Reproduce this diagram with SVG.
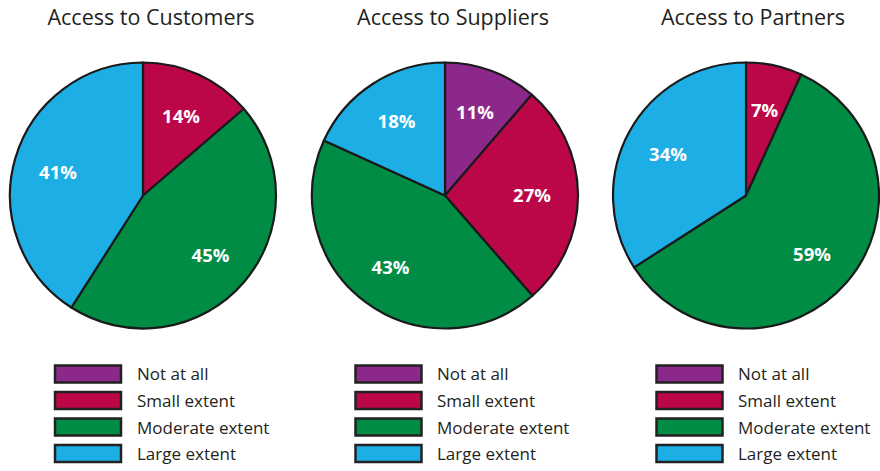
<svg xmlns="http://www.w3.org/2000/svg" width="880" height="471" viewBox="0 0 880 471">
<style>
  .title { font-family: "Open Sans", "Noto Sans", sans-serif; font-size: 21.5px; fill: #231f20; text-anchor: middle; }
  .pct { font-family: "Open Sans", "Noto Sans", sans-serif; font-size: 18.5px; font-weight: bold; fill: #ffffff; text-anchor: middle; }
  .leg { font-family: "Open Sans", "Noto Sans", sans-serif; font-size: 17px; fill: #231f20; }
  .slice { stroke: #1a1a1a; stroke-width: 2.2; stroke-linejoin: round; }
  .sw { stroke: #222222; stroke-width: 2.5; }
  .purple { fill: #8b288a; }
  .red { fill: #bb0748; }
  .green { fill: #008c45; }
  .blue { fill: #1daee5; }
</style>
<rect width="880" height="471" fill="#ffffff"/>

<g id="pie-customers">
  <text class="title" x="151" y="25">Access to Customers</text>
  <path class="slice red" d="M143,195.5 L143,62.5 A133,133 0 0 1 243.83,108.77 Z"/>
  <path class="slice green" d="M143,195.5 L243.83,108.77 A133,133 0 0 1 71.34,307.55 Z"/>
  <path class="slice blue" d="M143,195.5 L71.34,307.55 A133,133 0 0 1 143,62.5 Z"/>
  <text class="pct" x="181" y="122.5">14%</text>
  <text class="pct" x="210.5" y="262">45%</text>
  <text class="pct" x="58" y="178.5">41%</text>
</g>

<g id="pie-suppliers">
  <text class="title" x="453" y="25">Access to Suppliers</text>
  <path class="slice purple" d="M445,195.5 L445,62.5 A133,133 0 0 1 531.73,94.67 Z"/>
  <path class="slice red" d="M445,195.5 L531.73,94.67 A133,133 0 0 1 532.43,295.73 Z"/>
  <path class="slice green" d="M445,195.5 L532.43,295.73 A133,133 0 0 1 323.88,140.56 Z"/>
  <path class="slice blue" d="M445,195.5 L323.88,140.56 A133,133 0 0 1 445,62.5 Z"/>
  <text class="pct" x="475" y="118.5">11%</text>
  <text class="pct" x="532" y="202">27%</text>
  <text class="pct" x="390.5" y="273.5">43%</text>
  <text class="pct" x="396.5" y="127.5">18%</text>
</g>

<g id="pie-partners">
  <text class="title" x="753" y="25">Access to Partners</text>
  <path class="slice red" d="M746,195.5 L746,62.5 A133,133 0 0 1 801.16,74.47 Z"/>
  <path class="slice green" d="M746,195.5 L801.16,74.47 A133,133 0 1 1 634.08,267.35 Z"/>
  <path class="slice blue" d="M746,195.5 L634.08,267.35 A133,133 0 0 1 746,62.5 Z"/>
  <text class="pct" x="764.5" y="116.5">7%</text>
  <text class="pct" x="812" y="261">59%</text>
  <text class="pct" x="668" y="160.5">34%</text>
</g>

<g id="legend-customers">
  <rect class="sw purple" x="55" y="365.5" width="66" height="17"/>
  <rect class="sw red" x="55" y="392" width="66" height="17"/>
  <rect class="sw green" x="55" y="418.5" width="66" height="17"/>
  <rect class="sw blue" x="55" y="445" width="66" height="17"/>
  <text class="leg" x="137" y="380">Not at all</text>
  <text class="leg" x="137" y="407">Small extent</text>
  <text class="leg" x="137" y="434">Moderate extent</text>
  <text class="leg" x="137" y="460">Large extent</text>
</g>

<g id="legend-suppliers">
  <rect class="sw purple" x="355.5" y="365.5" width="66" height="17"/>
  <rect class="sw red" x="355.5" y="392" width="66" height="17"/>
  <rect class="sw green" x="355.5" y="418.5" width="66" height="17"/>
  <rect class="sw blue" x="355.5" y="445" width="66" height="17"/>
  <text class="leg" x="437" y="380">Not at all</text>
  <text class="leg" x="437" y="407">Small extent</text>
  <text class="leg" x="437" y="434">Moderate extent</text>
  <text class="leg" x="437" y="460">Large extent</text>
</g>

<g id="legend-partners">
  <rect class="sw purple" x="656.5" y="365.5" width="66" height="17"/>
  <rect class="sw red" x="656.5" y="392" width="66" height="17"/>
  <rect class="sw green" x="656.5" y="418.5" width="66" height="17"/>
  <rect class="sw blue" x="656.5" y="445" width="66" height="17"/>
  <text class="leg" x="738" y="380">Not at all</text>
  <text class="leg" x="738" y="407">Small extent</text>
  <text class="leg" x="738" y="434">Moderate extent</text>
  <text class="leg" x="738" y="460">Large extent</text>
</g>

<g id="connectors"></g>
</svg>
